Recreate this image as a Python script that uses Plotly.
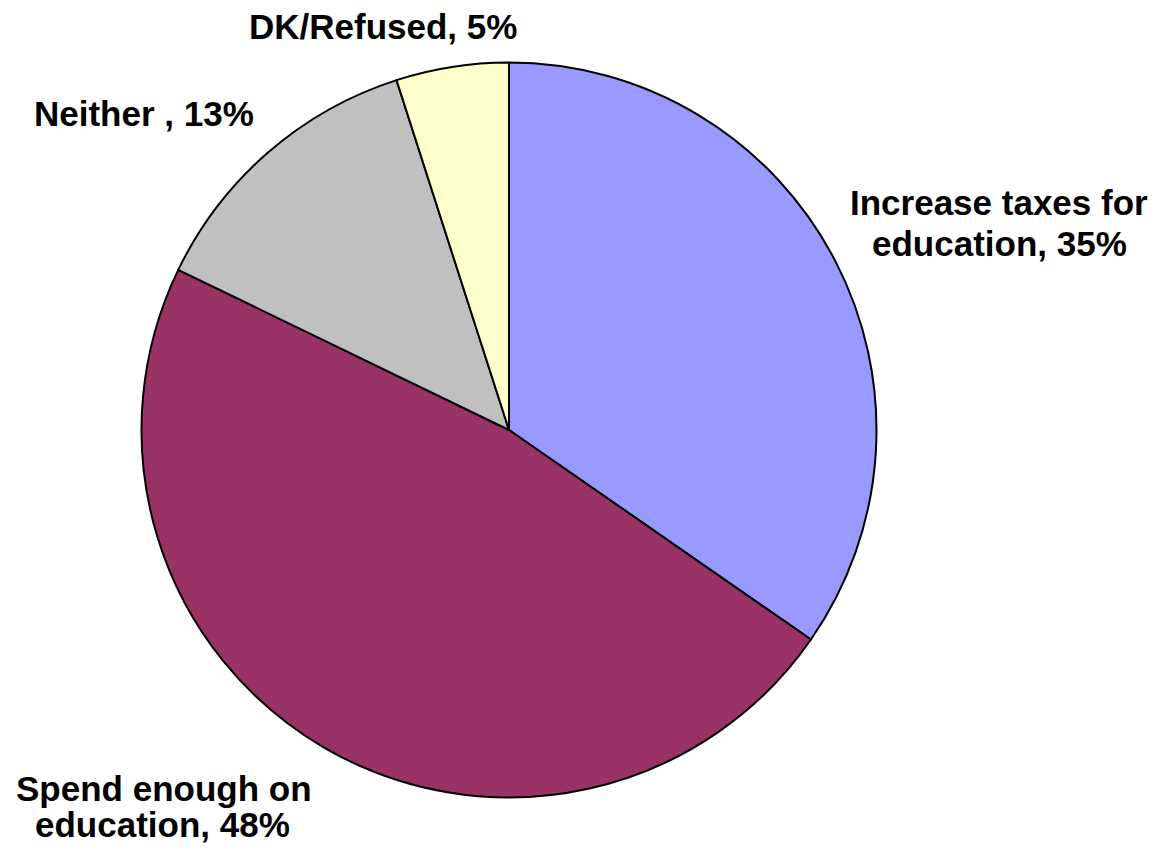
import plotly.graph_objects as go

# ---- data ----
categories = ["Increase taxes for<br>education", "Spend enough on<br>education", "Neither ", "DK/Refused"]
values = [35, 48, 13, 5]
colors = ["#9999FF", "#993366", "#C0C0C0", "#FFFFCC"]

W, H = 1157, 850
cx, cy, r = 509, 430, 367.5

# label line centres (pixel positions), one entry per line of each label
label_pos = [
    [(999, 202), (999, 243)],
    [(164, 788), (163, 824)],
    [(144, 113)],
    [(383, 26)],
]

fig = go.Figure(go.Pie(
    values=values,
    labels=[c.replace("<br>", " ") for c in categories],
    marker=dict(colors=colors, line=dict(color="black", width=2)),
    sort=False,
    direction="clockwise",
    rotation=0,
    textinfo="none",
    hoverinfo="label+percent",
    domain=dict(x=[(cx - r) / W, (cx + r) / W], y=[1 - (cy + r) / H, 1 - (cy - r) / H]),
    showlegend=False,
))

annotations = []
for cat, val, pos in zip(categories, values, label_pos):
    lines = (cat + ", " + str(val) + "%").split("<br>")
    for line, (px, py) in zip(lines, pos):
        annotations.append(dict(
            text="<b>" + line + "</b>", x=px / W, y=1 - py / H,
            xref="paper", yref="paper", xanchor="center", yanchor="middle",
            showarrow=False,
            font=dict(family="Liberation Sans, Arial, sans-serif", size=35, color="black"),
        ))

fig.update_layout(
    width=W, height=H,
    margin=dict(l=0, r=0, t=0, b=0),
    paper_bgcolor="white", plot_bgcolor="white",
    annotations=annotations,
)

fig.write_html(
    "out.html",
    config={"displayModeBar": False},
    post_script="document.body.style.margin='0';document.body.style.overflow='hidden';",
)
